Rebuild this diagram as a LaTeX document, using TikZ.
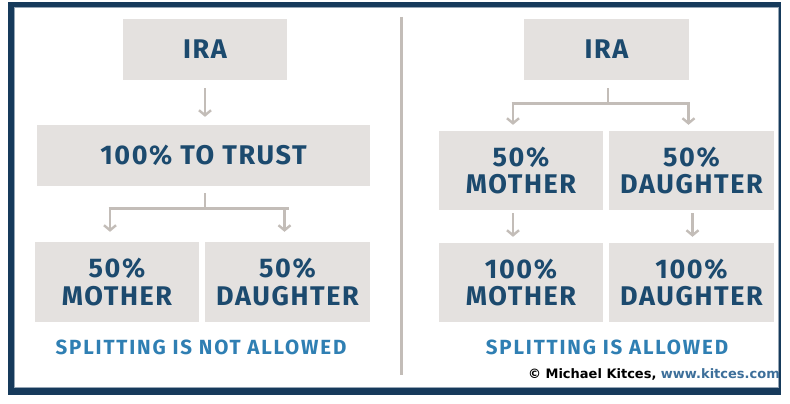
\documentclass[tikz,border=0pt]{standalone}
\usepackage{fontspec}
\setmainfont{Fira Sans}
\newfontfamily\creditfont{DejaVu Sans}
\usetikzlibrary{arrows.meta}
\definecolor{frameblue}{HTML}{163A5B}
\definecolor{boxgrey}{HTML}{E4E1DF}
\definecolor{textnavy}{HTML}{1C4A6E}
\definecolor{captionblue}{HTML}{2F7FB3}
\definecolor{arrowgrey}{HTML}{C3BDB8}
\definecolor{linkblue}{HTML}{3D6F9A}
\tikzset{
  box/.style={fill=boxgrey, inner sep=0pt, align=center, text=textnavy,
    font=\fontsize{27}{27.5}\selectfont\bfseries\addfontfeature{LetterSpace=6}},
  flow/.style={draw=arrowgrey, line width=2.6pt,
    -{Straight Barb[length=5pt, width=12pt, line width=2.4pt]}},
  flowline/.style={draw=arrowgrey, line width=2.6pt},
  caption/.style={text=captionblue,
    font=\fontsize{20.5}{21}\selectfont\bfseries\addfontfeature{LetterSpace=9}},
}
\begin{document}
\begin{tikzpicture}[x=1pt, y=-1pt]
  \useasboundingbox (0,0) rectangle (790,404);
  % outer frame
  \fill[frameblue] (8,2) rectangle (781,395);
  \fill[white] (14,7) rectangle (779,388);
  \draw[frameblue!45, line width=0.8pt] (14.4,7.4) rectangle (778.6,387.6);

  % divider between the two cases
  \draw[arrowgrey, line width=3pt] (401,17) -- (401,375);

  % ---------- left case ----------
  \node[box, minimum width=164pt, minimum height=61pt] (lira) at (205,49.5) {IRA};
  \node[box, minimum width=333pt, minimum height=61pt] (ltrust) at (203.5,155.5) {100\% TO TRUST};
  \node[box, minimum width=164pt, minimum height=80pt] (lmom) at (117,282) {50\%\\MOTHER};
  \node[box, minimum width=165pt, minimum height=80pt] (ldau) at (287.5,282) {50\%\\DAUGHTER};
  \node[caption] (lcap) at (201,347) {SPLITTING IS NOT ALLOWED};

  \draw[flow] ([yshift=-8pt]lira.south) -- ([yshift=8pt]lira.south |- ltrust.north);
  \draw[flowline] ([yshift=-7pt]ltrust.south -| lira.south) -- ++(0,15) coordinate (lfork);
  \draw[flow] ([xshift=-7pt]lfork -| lmom.north) -- ([xshift=-7pt,yshift=10pt]lmom.north) ;
  \draw[flowline] ([xshift=-8.3pt]lfork -| lmom.north) -- ([xshift=1.3pt]lfork -| ldau.north);
  \draw[flow] ([xshift=-3pt]lfork -| ldau.north) -- ([xshift=-3pt,yshift=10pt]ldau.north);

  % ---------- right case ----------
  \node[box, minimum width=165pt, minimum height=61pt] (rira) at (606.5,49.5) {IRA};
  \node[box, minimum width=164pt, minimum height=79pt] (rmom) at (521,170.5) {50\%\\MOTHER};
  \node[box, minimum width=165pt, minimum height=79pt] (rdau) at (691.5,170.5) {50\%\\DAUGHTER};
  \node[box, minimum width=164pt, minimum height=79pt] (rmom2) at (521,282.5) {100\%\\MOTHER};
  \node[box, minimum width=165pt, minimum height=79pt] (rdau2) at (691.5,282.5) {100\%\\DAUGHTER};
  \node[caption] (rcap) at (607,347) {SPLITTING IS ALLOWED};

  \draw[flowline] ([xshift=1.5pt,yshift=-8pt]rira.south) -- ++(0,15) coordinate (rfork);
  \draw[flowline] ([xshift=-9.3pt]rfork -| rmom.north) -- ([xshift=-1.7pt]rfork -| rdau.north);
  \draw[flow] ([xshift=-8pt]rfork -| rmom.north) -- ([xshift=-8pt,yshift=6pt]rmom.north);
  \draw[flow] ([xshift=-3pt]rfork -| rdau.north) -- ([xshift=-3pt,yshift=6pt]rdau.north);
  \draw[flow] ([xshift=-8pt,yshift=-3pt]rmom.south) -- ([xshift=-8pt,yshift=6pt]rmom2.north);
  \draw[flow] ([xshift=1pt,yshift=-3pt]rdau.south) -- ([xshift=1pt,yshift=6pt]rdau2.north);

  % credit line
  \node[anchor=east, inner sep=0pt, font=\creditfont\fontsize{13}{14}\selectfont\bfseries] (credit) at (780,374)
    {\textcopyright{} Michael Kitces, \textcolor{linkblue}{www.kitces.com}};
\end{tikzpicture}
\end{document}
